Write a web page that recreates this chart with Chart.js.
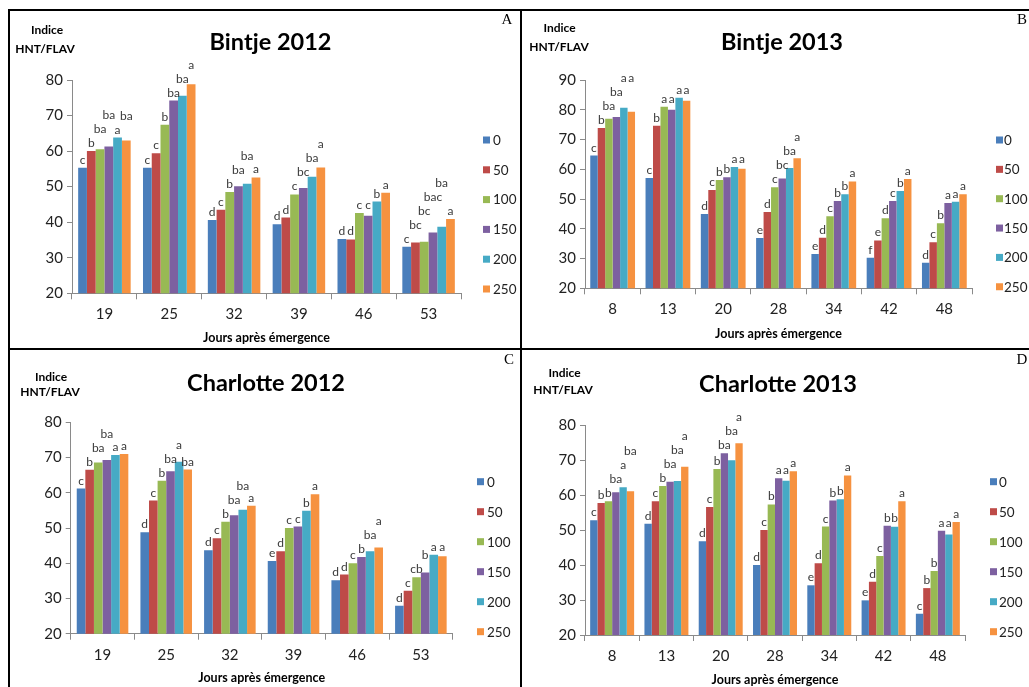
<!DOCTYPE html>
<html><head><meta charset="utf-8">
<script src="https://cdn.jsdelivr.net/npm/chart.js@4.4.1/dist/chart.umd.min.js"></script>
<style>
html,body{margin:0;padding:0;background:#fff;}
body{width:1029px;height:687px;position:relative;overflow:hidden;}
.pane{position:absolute;}
.line{position:absolute;background:#000;}
canvas{display:block;}
</style></head><body>
<div class="line" style="left:8px;top:9px;width:1021px;height:2px"></div>
<div class="line" style="left:8px;top:9px;width:2px;height:678px"></div>
<div class="line" style="left:520px;top:9px;width:2px;height:678px"></div>
<div class="line" style="left:8px;top:348px;width:1021px;height:2px"></div>
<div class="pane" style="left:10px;top:11px"><canvas id="cA" width="510" height="337"></canvas></div>
<div class="pane" style="left:522px;top:11px"><canvas id="cB" width="507" height="337"></canvas></div>
<div class="pane" style="left:10px;top:350px"><canvas id="cC" width="510" height="339"></canvas></div>
<div class="pane" style="left:522px;top:350px"><canvas id="cD" width="507" height="339"></canvas></div>
<script>
// ---- shared ----
const doses = ['0', '50', '100', '150', '200', '250'];
const doseColors = ['#4A7EBB', '#BE4B48', '#98B954', '#7D60A0', '#46AAC5', '#F69240'];

// ---- A : Bintje 2012 ----
const daysA = ['19', '25', '32', '39', '46', '53'];
const bintje2012_0   = [55.3, 55.3, 40.6, 39.4, 35.3, 33.1];
const bintje2012_50  = [60.0, 59.4, 43.5, 41.3, 35.1, 34.3];
const bintje2012_100 = [60.5, 67.4, 48.5, 47.8, 42.6, 34.5];
const bintje2012_150 = [61.3, 74.2, 50.1, 49.6, 41.8, 37.1];
const bintje2012_200 = [63.8, 75.6, 50.8, 52.8, 45.8, 38.7];
const bintje2012_250 = [63.0, 78.8, 52.6, 55.4, 48.3, 40.9];
const lettersA = [
  ['c', 'b', 'ba', 'ba', 'a', 'ba'],
  ['c', 'c', 'b', 'ba', 'ba', 'a'],
  ['d', 'c', 'b', 'ba', 'ba', 'a'],
  ['d', 'd', 'c', 'bc', 'ba', 'a'],
  ['d', 'd', 'c', 'c', 'b', 'a'],
  ['c', 'bc', 'bc', 'bac', 'ba', 'a']
];

// ---- B : Bintje 2013 ----
const daysB = ['8', '13', '20', '28', '34', '42', '48'];
const bintje2013_0   = [64.6, 57.1, 45.0, 36.9, 31.5, 30.3, 28.6];
const bintje2013_50  = [73.9, 74.6, 53.0, 45.6, 37.0, 36.1, 35.5];
const bintje2013_100 = [77.0, 81.0, 56.4, 54.0, 44.2, 43.5, 41.9];
const bintje2013_150 = [77.6, 80.0, 57.3, 56.9, 49.3, 49.3, 48.7];
const bintje2013_200 = [80.7, 84.0, 60.8, 60.4, 51.6, 52.7, 49.1];
const bintje2013_250 = [79.3, 83.0, 60.2, 63.7, 55.9, 56.7, 51.6];
const lettersB = [
  ['c', 'b', 'ba', 'ba', 'a', 'a'],
  ['c', 'b', 'a', 'a', 'a', 'a'],
  ['d', 'c', 'b', 'b', 'a', 'a'],
  ['e', 'd', 'c', 'bc', 'ba', 'a'],
  ['e', 'd', 'c', 'b', 'b', 'a'],
  ['f', 'e', 'd', 'c', 'b', 'a'],
  ['d', 'c', 'b', 'a', 'a', 'a']
];

// ---- C : Charlotte 2012 ----
const daysC = ['19', '25', '32', '39', '46', '53'];
const charlotte2012_0   = [61.2, 48.8, 43.7, 40.6, 35.2, 27.9];
const charlotte2012_50  = [66.5, 57.8, 47.1, 43.4, 36.8, 32.2];
const charlotte2012_100 = [68.6, 63.4, 51.8, 50.0, 40.0, 36.0];
const charlotte2012_150 = [69.3, 66.1, 53.6, 50.4, 41.8, 37.4];
const charlotte2012_200 = [70.7, 68.8, 55.2, 54.9, 43.4, 42.4];
const charlotte2012_250 = [71.0, 66.6, 56.3, 59.6, 44.5, 42.0];
const lettersC = [
  ['c', 'b', 'ba', 'ba', 'a', 'a'],
  ['d', 'c', 'b', 'ba', 'a', 'ba'],
  ['d', 'c', 'b', 'ba', 'ba', 'a'],
  ['e', 'd', 'c', 'c', 'b', 'a'],
  ['d', 'd', 'c', 'b', 'ba', 'a'],
  ['d', 'c', 'cb', 'b', 'a', 'a']
];

// ---- D : Charlotte 2013 ----
const daysD = ['8', '13', '20', '28', '34', '42', '48'];
const charlotte2013_0   = [52.8, 51.8, 46.8, 40.0, 34.2, 29.9, 26.1];
const charlotte2013_50  = [57.7, 58.2, 56.6, 50.0, 40.5, 35.2, 33.4];
const charlotte2013_100 = [58.2, 62.6, 67.4, 57.3, 51.0, 42.6, 38.3];
const charlotte2013_150 = [60.8, 63.8, 71.9, 64.8, 58.4, 51.2, 49.8];
const charlotte2013_200 = [62.2, 64.0, 69.9, 64.1, 58.8, 50.9, 48.7];
const charlotte2013_250 = [61.1, 68.1, 74.8, 66.8, 65.6, 58.2, 52.3];
const lettersD = [
  ['c', 'b', 'b', 'ba', 'a', 'ba'],
  ['d', 'c', 'b', 'ba', 'ba', 'a'],
  ['d', 'c', 'b', 'ba', 'ba', 'a'],
  ['d', 'c', 'b', 'a', 'a', 'a'],
  ['e', 'd', 'c', 'b', 'b', 'a'],
  ['e', 'd', 'c', 'b', 'b', 'a'],
  ['c', 'b', 'b', 'a', 'a', 'a']
];

const yTitle = ['Indice', 'HNT/FLAV'];
const xTitle = 'Jours après émergence';

// ---- plugins ----
const lettersPlugin = {
  id: 'letters',
  afterDatasetsDraw(chart, args, opts) {
    const ctx = chart.ctx, L = opts.letters;
    ctx.save();
    ctx.font = '12px Lato';
    ctx.fillStyle = '#3a3a3a';
    ctx.textAlign = 'center';
    ctx.textBaseline = 'alphabetic';
    const h = 9;
    chart.data.labels.forEach((lab, j) => {
      const placed = [];
      chart.data.datasets.forEach((ds, i) => {
        const el = chart.getDatasetMeta(i).data[j];
        const t = L[j][i];
        const w = ctx.measureText(t).width;
        const x = el.x;
        let base = el.y - 4;
        if (i > 0) {
          const pv = placed[i - 1];
          const ov = Math.min(x + w / 2, pv.r) - Math.max(x - w / 2, pv.l);
          if (t === pv.t && ov <= 0) base = Math.min(base, pv.base);
          if (ov > 1.5) base = Math.min(base, pv.top - 5);
        }
        let moved = true, guard = 0;
        while (moved && guard++ < 50) {
          moved = false;
          for (const p of placed) {
            if (x - w / 2 < p.r && x + w / 2 > p.l && base > p.top - 2 && base - h < p.base + 2) {
              base = p.top - 5; moved = true;
            }
          }
        }
        placed.push({ t, l: x - w / 2, r: x + w / 2, top: base - h, base });
        ctx.fillText(t, x, base);
      });
    });
    ctx.restore();
  }
};

const decoPlugin = {
  id: 'deco',
  afterDraw(chart, args, o) {
    const ctx = chart.ctx;
    ctx.save();
    ctx.fillStyle = '#000';
    ctx.textAlign = 'center';
    ctx.textBaseline = 'middle';
    ctx.font = 'bold 23.5px Lato';
    ctx.fillText(o.title, o.titleX, o.titleY);
    ctx.font = 'bold 12px Lato';
    ctx.fillText(yTitle[0], o.yt1[0], o.yt1[1]);
    ctx.fillText(yTitle[1], o.yt2[0], o.yt2[1]);
    ctx.font = 'bold 12.5px Lato';
    ctx.fillText(xTitle, o.xtX, o.xtY);
    ctx.font = '15px "Liberation Serif"';
    ctx.fillText(o.letter, o.letterX, o.letterY);
    // legend
    ctx.textAlign = 'left';
    ctx.font = '13.5px Lato';
    doses.forEach((d, i) => {
      const y = o.legY + i * o.legStep;
      ctx.fillStyle = doseColors[i];
      ctx.fillRect(o.legBox, y - 3.5, 7, 7);
      ctx.fillStyle = '#222';
      ctx.fillText(d, o.legText, y + 0.5);
    });
    ctx.restore();
  }
};

function makePanel(id, days, series, letters, yMax, pad, deco) {
  const datasets = series.map((data, i) => ({
    label: doses[i],
    data: data,
    backgroundColor: doseColors[i],
    borderWidth: 0,
    categoryPercentage: 0.81,
    barPercentage: 1.0
  }));
  const axisColor = '#8a8a8a';
  new Chart(document.getElementById(id), {
    type: 'bar',
    data: { labels: days, datasets },
    plugins: [lettersPlugin, decoPlugin],
    options: {
      responsive: false,
      animation: false,
      events: [],
      layout: { padding: pad },
      plugins: {
        legend: { display: false },
        tooltip: { enabled: false },
        title: { display: false },
        letters: { letters },
        deco: deco
      },
      scales: {
        x: {
          grid: { display: true, drawOnChartArea: false, drawTicks: true, tickLength: 6, color: axisColor, offset: true },
          border: { display: true, color: axisColor, width: 1 },
          ticks: { font: { family: 'Lato', size: 15 }, color: '#222', padding: 6 },
          afterFit(s) { s.height = 40; }
        },
        y: {
          min: 20, max: yMax,
          ticks: { stepSize: 10, font: { family: 'Lato', size: 15 }, color: '#222', padding: 4 },
          grid: { display: true, drawOnChartArea: false, drawTicks: true, tickLength: 5, color: axisColor },
          border: { display: true, color: axisColor, width: 1 },
          afterFit(s) { s.width = 50; }
        }
      }
    }
  });
}

makePanel('cA', daysA,
  [bintje2012_0, bintje2012_50, bintje2012_100, bintje2012_150, bintje2012_200, bintje2012_250],
  lettersA, 80,
  { left: 12, right: 59, top: 69, bottom: 14.7 },
  { title: 'Bintje 2012', titleX: 260.5, titleY: 31, yt1: [37, 19], yt2: [35, 38],
    xtX: 256.5, xtY: 327, letter: 'A', letterX: 497, letterY: 9,
    legBox: 473, legText: 483, legY: 129, legStep: 29.8 });

makePanel('cB', daysB,
  [bintje2013_0, bintje2013_50, bintje2013_100, bintje2013_150, bintje2013_200, bintje2013_250],
  lettersB, 90,
  { left: 13, right: 57, top: 69, bottom: 19.7 },
  { title: 'Bintje 2013', titleX: 260, titleY: 31, yt1: [37.5, 17], yt2: [37, 36],
    xtX: 256.5, xtY: 323, letter: 'B', letterX: 500, letterY: 9,
    legBox: 474, legText: 482, legY: 129, legStep: 29.35 });

makePanel('cC', daysC,
  [charlotte2012_0, charlotte2012_50, charlotte2012_100, charlotte2012_150, charlotte2012_200, charlotte2012_250],
  lettersC, 80,
  { left: 10.7, right: 67.3, top: 72.3, bottom: 15.3 },
  { title: 'Charlotte 2012', titleX: 256, titleY: 33, yt1: [41, 27], yt2: [40, 42],
    xtX: 251.7, xtY: 328, letter: 'C', letterX: 499, letterY: 10,
    legBox: 467, legText: 477, legY: 131.7, legStep: 30 });

makePanel('cD', daysD,
  [charlotte2013_0, charlotte2013_50, charlotte2013_100, charlotte2013_150, charlotte2013_200, charlotte2013_250],
  lettersD, 80,
  { left: 13, right: 64, top: 75, bottom: 14 },
  { title: 'Charlotte 2013', titleX: 256, titleY: 34, yt1: [42.5, 23], yt2: [41, 40],
    xtX: 253, xtY: 330, letter: 'D', letterX: 500, letterY: 10,
    legBox: 468, legText: 477, legY: 131.7, legStep: 30 });
</script>
</body></html>
